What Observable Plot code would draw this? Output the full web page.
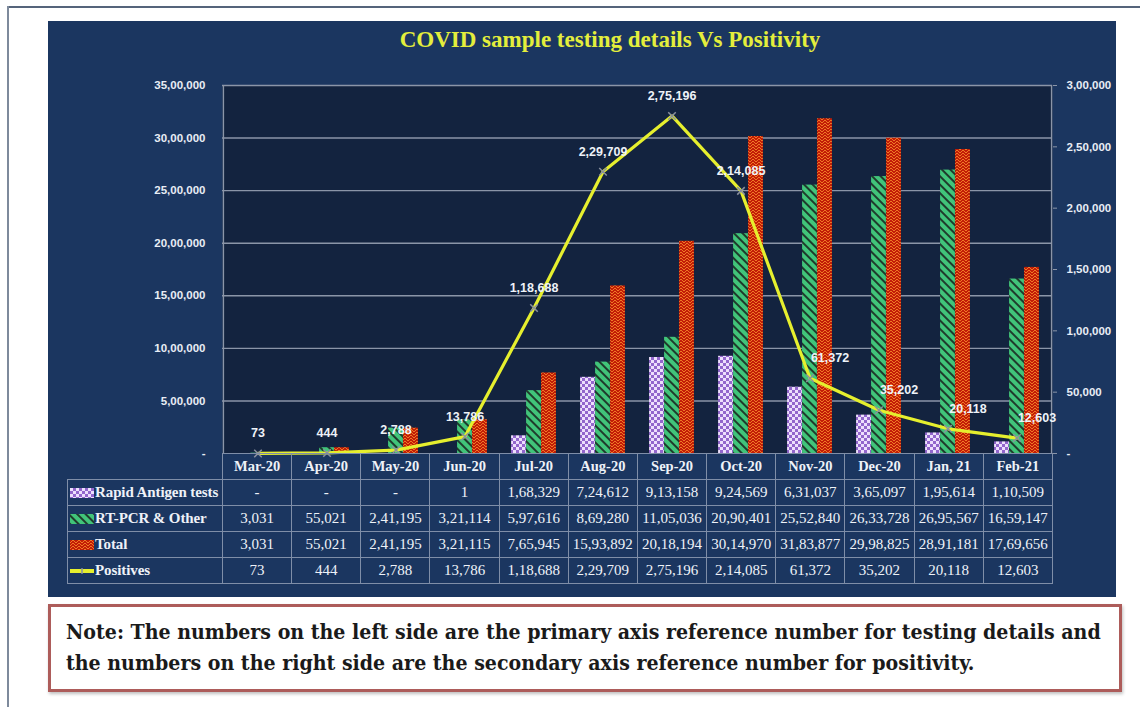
<!DOCTYPE html>
<html>
<head>
<meta charset="utf-8">
<script src="https://cdn.jsdelivr.net/npm/d3@7"></script>
<script src="https://cdn.jsdelivr.net/npm/@observablehq/plot@0.6"></script>
<style>
  html, body { margin: 0; padding: 0; background: #ffffff; }
  body { width: 1140px; height: 707px; position: relative; overflow: hidden; }
  #frameTop { position: absolute; left: 8px; top: 6px; width: 1132px; height: 0; border-top: 2px solid #55647b; }
  #frameLeft { position: absolute; left: 7px; top: 6px; width: 0; height: 701px; border-left: 2px solid #7e8a9c; }
  #panel { position: absolute; left: 48px; top: 21px; width: 1068px; height: 576px; background: #1b3660; }
  #title { position: absolute; left: 0; top: 6px; width: 1124px; text-align: center;
           font-family: "Liberation Serif", "DejaVu Serif", serif; font-weight: bold; font-size: 23px; color: #e4ee3c; }
  #chart { position: absolute; left: 0; top: 0; }
  #tbl { position: absolute; border-collapse: collapse; table-layout: fixed;
         font-family: "Liberation Serif", "DejaVu Serif", serif; font-size: 15px; color: #eef2f8; }
  #tbl td { border: 1px solid #7f8ea8; text-align: center; padding: 0; height: 25px; white-space: nowrap; overflow: hidden; }
  #tbl tr.head td { font-weight: bold; font-size: 14.5px; }
  #tbl tr.head td.blank { border: none; }
  #tbl td.lab { text-align: left; padding-left: 2px; font-weight: bold; font-size: 15px; letter-spacing: -0.1px; }
  #tbl td.lab svg { vertical-align: -1px; margin-right: 1px; }
  #note { position: absolute; left: 48px; top: 604px; width: 1068px; height: 82px; background: #ffffff;
          border: 3px solid #ad5c5a; box-shadow: 1px 2px 3px rgba(0,0,0,0.25);
          font-family: "DejaVu Serif Condensed", "Liberation Serif", serif; font-weight: bold; font-size: 18px; color: #1a1a1a; }
  #note div { position: absolute; left: 15px; white-space: nowrap; }
</style>
</head>
<body>
<svg width="0" height="0" style="position:absolute">
  <defs>
    <pattern id="pRapid" width="6" height="6" patternUnits="userSpaceOnUse">
      <rect width="6" height="6" fill="#9266cc"/>
      <rect x="0" y="0" width="3" height="3" fill="#eddffc"/>
      <rect x="3" y="3" width="3" height="3" fill="#eddffc"/>
    </pattern>
    <pattern id="pRt" width="6" height="6" patternUnits="userSpaceOnUse" patternTransform="rotate(-45)">
      <rect width="6" height="6" fill="#1f3b2c"/>
      <rect x="0" y="0" width="4" height="6" fill="#41c47a"/>
    </pattern>
    <pattern id="pTot" width="6" height="6" patternUnits="userSpaceOnUse">
      <rect width="6" height="6" fill="#c21d06"/>
      <path d="M0,3 L3,0 L6,3 M0,6 L3,3 L6,6" fill="none" stroke="#f07826" stroke-width="1"/>
    </pattern>
  </defs>
</svg>
<div id="frameTop"></div>
<div id="frameLeft"></div>
<div id="panel">
  <div id="title">COVID sample testing details Vs Positivity</div>
</div>
<div id="note">
  <div id="n1" style="top:12px">Note: The numbers on the left side are the primary axis reference number for testing details and</div>
  <div id="n2" style="top:43px">the numbers on the right side are the secondary axis reference number for positivity.</div>
</div>
<script>
// ---------- data ----------
const months = ["Mar-20","Apr-20","May-20","Jun-20","Jul-20","Aug-20","Sep-20","Oct-20","Nov-20","Dec-20","Jan, 21","Feb-21"];
const rapid = [null, null, null, 1, 168329, 724612, 913158, 924569, 631037, 365097, 195614, 110509];
const rtpcr = [3031, 55021, 241195, 321114, 597616, 869280, 1105036, 2090401, 2552840, 2633728, 2695567, 1659147];
const total = [3031, 55021, 241195, 321115, 765945, 1593892, 2018194, 3014970, 3183877, 2998825, 2891181, 1769656];
const positives = [73, 444, 2788, 13786, 118688, 229709, 275196, 214085, 61372, 35202, 20118, 12603];
const leftTicks = [0, 500000, 1000000, 1500000, 2000000, 2500000, 3000000, 3500000];
const rightTicks = [0, 50000, 100000, 150000, 200000, 250000, 300000];
const seriesNames = ["Rapid Antigen tests", "RT-PCR & Other", "Total", "Positives"];

// ---------- helpers ----------
function inr(n) {
  if (n == null) return "-";
  if (n === 0) return "-";
  const s = String(Math.round(n));
  if (s.length <= 3) return s;
  const last3 = s.slice(-3);
  const rest = s.slice(0, -3).replace(/\B(?=(\d{2})+(?!\d))/g, ",");
  return rest + "," + last3;
}
const leftMax = leftTicks[leftTicks.length - 1];
const rightMax = rightTicks[rightTicks.length - 1];
const ratio = leftMax / rightMax;

const rows = months.map((m, i) => ({month: m, rapid: rapid[i], rtpcr: rtpcr[i], total: total[i], pos: positives[i]}));

// ---------- layout ----------
const W = 1068, H = 576, ML = 174, MR = 64, MT = 64, MB = 144;
const bw = (W - ML - MR) / months.length;
const barW = 15;
const off = (bw - 3 * barW) / 2;
const axisFont = "'Liberation Sans', Arial, sans-serif";

const chart = Plot.plot({
  width: W, height: H,
  marginLeft: ML, marginRight: MR, marginTop: MT, marginBottom: MB,
  style: {background: "transparent", color: "#e8edf5", overflow: "visible"},
  x: {domain: months, padding: 0, axis: null},
  y: {domain: [0, leftMax], axis: null},
  marks: [
    Plot.frame({fill: "#13233f", stroke: null}),
    Plot.gridY(leftTicks.filter(v => v > 0), {stroke: "#8b95a8", strokeOpacity: 1, strokeWidth: 1.4}),
    Plot.ruleX([months[0]], {stroke: "#8b95a8", strokeWidth: 1.4, dx: -bw / 2, y1: 0, y2: leftMax}),
    Plot.ruleX([months[months.length - 1]], {stroke: "#8b95a8", strokeWidth: 1.4, dx: bw / 2, y1: 0, y2: leftMax}),
    Plot.axisY(leftTicks, {anchor: "left", tickSize: 0, tickPadding: 17, tickFormat: inr,
      fill: "#e8edf5", fontSize: 11.5, fontWeight: "bold", fontFamily: axisFont}),
    Plot.axisY(rightTicks.map(v => v * ratio), {anchor: "right", tickSize: 4, tickPadding: 10,
      tickFormat: v => inr(Math.round(v / ratio)), stroke: "#8b95a8",
      fill: "#e8edf5", fontSize: 11.5, fontWeight: "bold", fontFamily: axisFont}),
    Plot.barY(rows, {x: "month", y: "rapid", fill: "url(#pRapid)", insetLeft: off, insetRight: bw - off - barW}),
    Plot.barY(rows, {x: "month", y: "rtpcr", fill: "url(#pRt)", insetLeft: off + barW, insetRight: bw - off - 2 * barW}),
    Plot.barY(rows, {x: "month", y: "total", fill: "url(#pTot)", insetLeft: off + 2 * barW, insetRight: bw - off - 3 * barW}),
    Plot.line(rows, {x: "month", y: d => d.pos * ratio, stroke: "#e6ef2e", strokeWidth: 3.2}),
    Plot.dot(rows, {x: "month", y: d => d.pos * ratio, symbol: "times", r: 3.5, stroke: "#8a909e", strokeWidth: 1.5}),
    Plot.text(rows.slice(0, 8), {x: "month", y: d => d.pos * ratio, text: d => inr(d.pos), dy: -20,
      fill: "#eef2f8", fontSize: 12.5, fontWeight: "bold", fontFamily: axisFont}),
    Plot.text(rows.slice(8), {x: "month", y: d => d.pos * ratio, text: d => inr(d.pos), dy: -20, dx: 20,
      fill: "#eef2f8", fontSize: 12.5, fontWeight: "bold", fontFamily: axisFont})
  ]
});
chart.id = "chart";
document.getElementById("panel").appendChild(chart);

// ---------- data table under the chart ----------
const panel = document.getElementById("panel");
const labW = 155;
const tbl = document.createElement("table");
tbl.id = "tbl";
tbl.style.left = (ML - labW) + "px";
tbl.style.top = (H - MB) + "px";
tbl.style.width = (labW + bw * months.length) + "px";
const cg = document.createElement("colgroup");
cg.innerHTML = `<col style="width:${labW}px">` + months.map(() => `<col style="width:${bw}px">`).join("");
tbl.appendChild(cg);

const swatch = {
  "Rapid Antigen tests": `<svg width="24" height="10"><rect width="24" height="10" fill="url(#pRapid)"/></svg>`,
  "RT-PCR & Other": `<svg width="24" height="10"><rect width="24" height="10" fill="url(#pRt)"/></svg>`,
  "Total": `<svg width="24" height="10"><rect width="24" height="10" fill="url(#pTot)"/></svg>`,
  "Positives": `<svg width="24" height="10"><line x1="0" x2="24" y1="5" y2="5" stroke="#e6ef2e" stroke-width="4"/><line x1="12" x2="12" y1="2" y2="8" stroke="#8a909e" stroke-width="1.5"/></svg>`
};
const head = document.createElement("tr");
head.className = "head";
head.innerHTML = `<td class="blank"></td>` + months.map(m => `<td>${m}</td>`).join("");
tbl.appendChild(head);
const seriesVals = [rapid, rtpcr, total, positives];
seriesNames.forEach((name, k) => {
  const tr = document.createElement("tr");
  tr.innerHTML = `<td class="lab">${swatch[name]}${name.replace("&", "&amp;")}</td>` +
    seriesVals[k].map(v => `<td>${inr(v)}</td>`).join("");
  tbl.appendChild(tr);
});
panel.appendChild(tbl);

// ---------- fit the note text to the reference width ----------
const n1 = document.getElementById("n1"), n2 = document.getElementById("n2");
const target = 1035;
const w1 = n1.getBoundingClientRect().width;
const fs = 18 * target / w1;
n1.style.fontSize = fs + "px";
n2.style.fontSize = fs + "px";
</script>
</body>
</html>
